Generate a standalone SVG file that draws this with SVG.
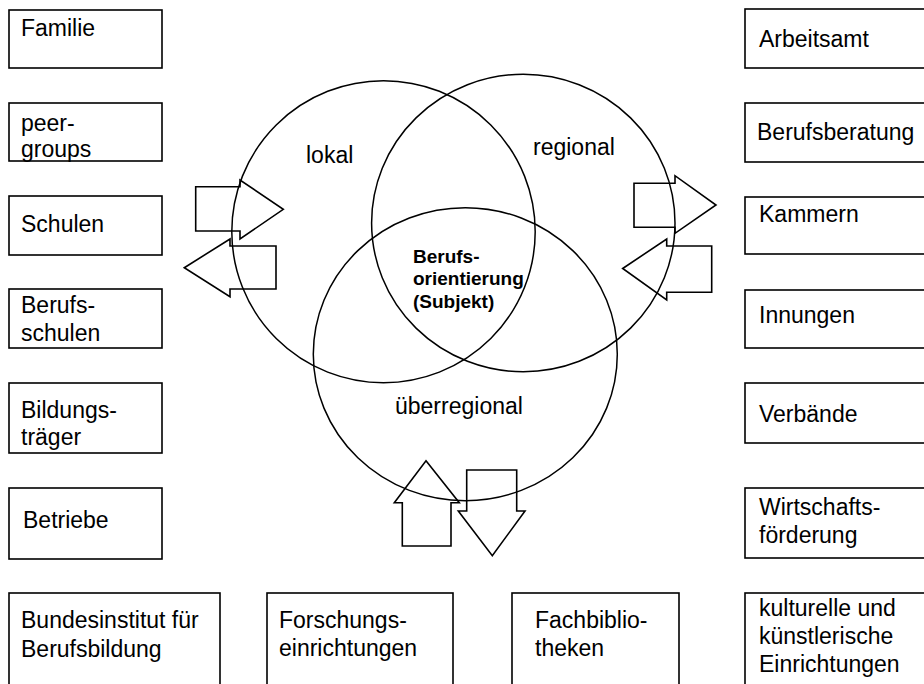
<svg xmlns="http://www.w3.org/2000/svg" width="924" height="684" viewBox="0 0 924 684">
<style>
.box{fill:#fff;stroke:#000;stroke-width:1.6}
.ring{fill:none;stroke:#000;stroke-width:1.5}
.arr{fill:none;stroke:#000;stroke-width:1.6;stroke-linejoin:miter}
text{font-family:"Liberation Sans",Arial,sans-serif;font-size:23px;fill:#000}
.b{font-weight:bold;font-size:19px}
</style>
<rect width="924" height="684" fill="#fff"/>
<g id="left-column">
<g id="familie"><rect class="box" x="9" y="10" width="153" height="58"/><text x="21" y="36">Familie</text></g>
<g id="peergroups"><rect class="box" x="9" y="103" width="153" height="58"/><text x="21" y="131">peer-</text><text x="21" y="157">groups</text></g>
<g id="schulen"><rect class="box" x="9" y="196" width="153" height="59"/><text x="21" y="232">Schulen</text></g>
<g id="berufsschulen"><rect class="box" x="9" y="289" width="153" height="59"/><text x="21" y="313">Berufs-</text><text x="21" y="341">schulen</text></g>
<g id="bildungstraeger"><rect class="box" x="9" y="383" width="153" height="70"/><text x="21" y="418">Bildungs-</text><text x="21" y="445">träger</text></g>
<g id="betriebe"><rect class="box" x="9" y="488" width="153" height="71"/><text x="23" y="528">Betriebe</text></g>
</g>
<g id="right-column">
<g id="arbeitsamt"><rect class="box" x="745" y="9" width="190" height="59"/><text x="759" y="47">Arbeitsamt</text></g>
<g id="berufsberatung"><rect class="box" x="745" y="103" width="190" height="59"/><text x="757" y="140">Berufsberatung</text></g>
<g id="kammern"><rect class="box" x="745" y="197" width="190" height="57"/><text x="759" y="222">Kammern</text></g>
<g id="innungen"><rect class="box" x="745" y="290" width="190" height="58"/><text x="759" y="323">Innungen</text></g>
<g id="verbaende"><rect class="box" x="745" y="383" width="190" height="60"/><text x="759" y="422">Verbände</text></g>
<g id="wirtschaftsfoerderung"><rect class="box" x="745" y="488" width="190" height="70"/><text x="759" y="515">Wirtschafts-</text><text x="759" y="543">förderung</text></g>
</g>
<g id="bottom-row">
<g id="bundesinstitut"><rect class="box" x="9" y="593" width="211" height="100"/><text x="21" y="628">Bundesinstitut für</text><text x="21" y="657">Berufsbildung</text></g>
<g id="forschung"><rect class="box" x="267" y="593" width="186" height="100"/><text x="279" y="628">Forschungs-</text><text x="279" y="656">einrichtungen</text></g>
<g id="fachbibliotheken"><rect class="box" x="512" y="593" width="167" height="100"/><text x="535" y="628">Fachbiblio-</text><text x="535" y="656">theken</text></g>
<g id="kulturelle"><rect class="box" x="745" y="593" width="190" height="100"/><text x="759" y="616">kulturelle und</text><text x="759" y="644">künstlerische</text><text x="759" y="672">Einrichtungen</text></g>
</g>
<g id="circles">
<g id="lokal"><ellipse class="ring" cx="383.5" cy="231.7" rx="151.7" ry="151"/><text x="306" y="163">lokal</text></g>
<g id="regional"><ellipse class="ring" cx="523.3" cy="223" rx="151.7" ry="148.7"/><text x="533" y="155">regional</text></g>
<g id="ueberregional"><ellipse class="ring" cx="465.3" cy="354.2" rx="152" ry="146.5"/><text x="395" y="414">überregional</text></g>
<g id="subjekt"><text class="b" x="413" y="263">Berufs-</text><text class="b" x="413" y="285">orientierung</text><text class="b" x="413" y="308">(Subjekt)</text></g>
</g>
<g id="connectors">
<polygon class="arr" points="195.7,186.7 240,186.7 240,180 283.3,209.3 240,239 240,231 195.7,231"/>
<polygon class="arr" points="184.3,267.7 230,239 230,246 276,246 276,289 230,289 230,296.7"/>
<polygon class="arr" points="634,183.3 675,183.3 675,175.7 716,205 675,233.3 675,227.3 634,227.3"/>
<polygon class="arr" points="622.7,268.5 666.7,239 666.7,246 711.7,246 711.7,292.3 666.7,292.3 666.7,300"/>
<polygon class="arr" points="426,460.7 459.3,502.7 451,502.7 451,546 402.3,546 402.3,502.7 394.3,502.7"/>
<polygon class="arr" points="466.7,470 516.7,470 516.7,511 525,511 492.3,555.7 458.3,511 466.7,511"/>
</g>
</svg>
